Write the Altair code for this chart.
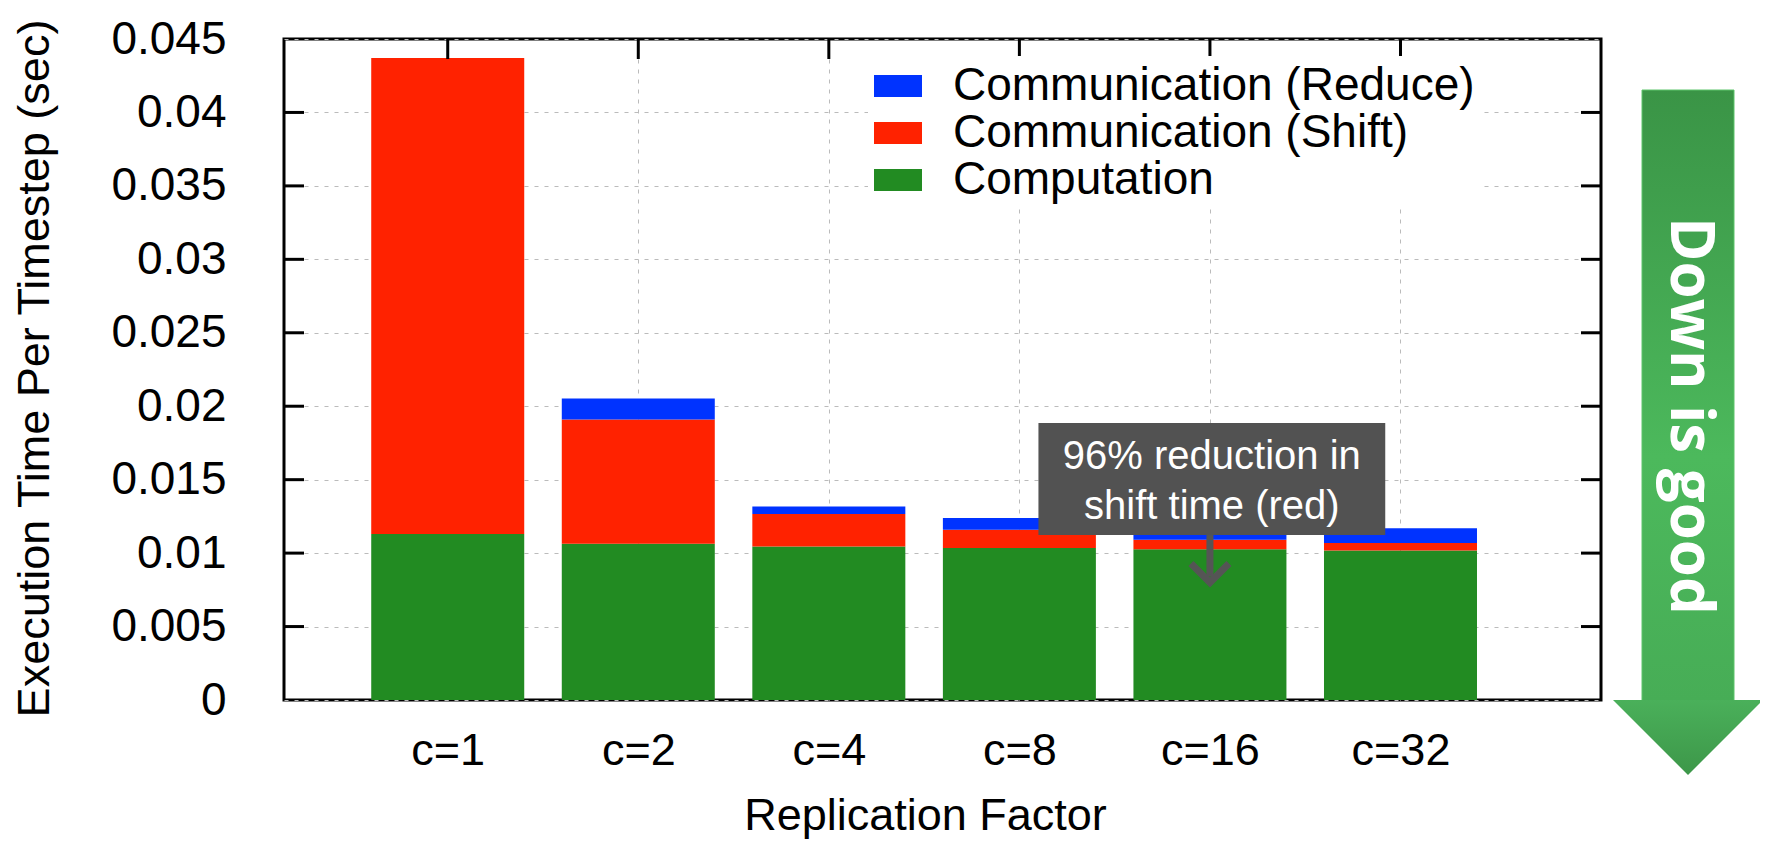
import altair as alt
import pandas as pd

# ---- data ----
categories = ["c=1", "c=2", "c=4", "c=8", "c=16", "c=32"]
computation = [0.0113, 0.01064, 0.01045, 0.01034, 0.01027, 0.01018]
comm_shift = [0.0324, 0.00845, 0.00221, 0.00125, 0.00064, 0.0005]
comm_reduce = [0.0, 0.00143, 0.00052, 0.0008, 0.0008, 0.00102]
series_names = ["Communication (Reduce)", "Communication (Shift)", "Computation"]
series_colors = ["#0033ff", "#ff2200", "#228b22"]
y_ticks = [0, 0.005, 0.01, 0.015, 0.02, 0.025, 0.03, 0.035, 0.04, 0.045]
y_tick_labels = ["0", "0.005", "0.01", "0.015", "0.02", "0.025", "0.03", "0.035", "0.04", "0.045"]
x_title = "Replication Factor"
y_title = "Execution Time Per Timestep (sec)"
note_lines = ["96% reduction in", "shift time (red)"]
note_box_x = [3.1, 4.92]
note_box_y = [0.01123, 0.01885]
note_text_y = [0.01654, 0.01313]
note_arrow_x = 4.0
note_arrow_y = [0.01123, 0.0080]
side_note = "Down is good"

FONT = "Liberation Sans"
W, H = 1317, 661

rows = []
for i, c in enumerate(categories):
    for name, vals, order in [("Computation", computation, 0),
                              ("Communication (Shift)", comm_shift, 1),
                              ("Communication (Reduce)", comm_reduce, 2)]:
        rows.append({"idx": i, "cat": c, "series": name, "value": vals[i], "order": order})
df = pd.DataFrame(rows)

xscale = alt.Scale(domain=[-0.833, 6.026], nice=False, zero=False)
yscale = alt.Scale(domain=[0, 0.045], nice=False)

x_label_expr = "[" + ",".join(f"'{c}'" for c in categories) + "][round(datum.value)]"
y_label_expr = "[" + ",".join(f"'{s}'" for s in y_tick_labels) + "][round(datum.value/0.005)]"

bars = alt.Chart(df).mark_bar(size=153).encode(
    x=alt.X("idx:Q", scale=xscale,
            axis=alt.Axis(values=list(range(len(categories))), labelExpr=x_label_expr,
                          title=x_title, grid=True, gridDash=[4, 6], gridColor="#bbbbbb",
                          gridWidth=1, ticks=False, tickSize=0, domain=False,
                          labelFontSize=45, labelFont=FONT, labelColor="black",
                          labelPadding=28, titleFontSize=45, titleFont=FONT,
                          titleFontWeight="normal", titleColor="black",
                          titleX=641, titleY=129, titleBaseline="alphabetic",
                          titleAnchor="middle")),
    y=alt.Y("value:Q", stack="zero", scale=yscale,
            axis=alt.Axis(values=y_ticks, labelExpr=y_label_expr, title=y_title,
                          grid=True, gridDash=[4, 6], gridColor="#bbbbbb", gridWidth=1,
                          ticks=False, tickSize=0, domain=False,
                          labelFontSize=46, labelFont=FONT, labelColor="black",
                          labelPadding=58, titleFontSize=45, titleFont=FONT,
                          titleFontWeight="normal", titleColor="black",
                          titleX=-250, titleY=329, titleBaseline="middle",
                          titleAngle=-90)),
    color=alt.Color("series:N",
                    scale=alt.Scale(domain=series_names, range=series_colors),
                    legend=alt.Legend(orient="none", legendX=584, legendY=17, title=None,
                                      labelFontSize=46, labelFont=FONT, labelColor="black",
                                      symbolType="M-1,-0.46L1,-0.46L1,0.46L-1,0.46Z",
                                      symbolSize=2304, symbolStrokeWidth=0,
                                      symbolOpacity=1, labelOffset=31, rowPadding=0,
                                      fillColor="white", padding=6, labelLimit=800)),
    order=alt.Order("order:Q"),
)

ytick_df = pd.DataFrame({"v": y_ticks[1:-1]})
xtick_df = pd.DataFrame({"i": list(range(len(categories)))})

left_ticks = alt.Chart(ytick_df).mark_rule(color="black", strokeWidth=3).encode(
    y=alt.Y("v:Q", scale=yscale, axis=None), x=alt.value(0), x2=alt.value(20))
right_ticks = alt.Chart(ytick_df).mark_rule(color="black", strokeWidth=3).encode(
    y=alt.Y("v:Q", scale=yscale, axis=None), x=alt.value(W - 20), x2=alt.value(W))
top_ticks = alt.Chart(xtick_df).mark_rule(color="black", strokeWidth=3).encode(
    x=alt.X("i:Q", scale=xscale, axis=None), y=alt.value(0), y2=alt.value(20))

box_df = pd.DataFrame({"x1": [note_box_x[0]], "x2": [note_box_x[1]],
                       "y1": [note_box_y[0]], "y2": [note_box_y[1]]})
note_box = alt.Chart(box_df).mark_rect(color="#525252").encode(
    x=alt.X("x1:Q", scale=xscale, axis=None), x2="x2:Q",
    y=alt.Y("y1:Q", scale=yscale, axis=None), y2="y2:Q")

txt_df = pd.DataFrame({"t": note_lines, "x": [sum(note_box_x) / 2] * 2, "y": note_text_y})
note_text = alt.Chart(txt_df).mark_text(color="white", fontSize=40, font=FONT,
                                        align="center", baseline="middle").encode(
    x=alt.X("x:Q", scale=xscale, axis=None), y=alt.Y("y:Q", scale=yscale, axis=None), text="t:N")

arr_df = pd.DataFrame({"x": [note_arrow_x], "y1": [note_arrow_y[0]], "y2": [note_arrow_y[1] + 0.0004]})
arrow_shaft = alt.Chart(arr_df).mark_rule(color="#555555", strokeWidth=7).encode(
    x=alt.X("x:Q", scale=xscale, axis=None), y=alt.Y("y1:Q", scale=yscale, axis=None), y2="y2:Q")
head_df = pd.DataFrame({"x": [note_arrow_x], "y": [note_arrow_y[1]]})
arrow_head = alt.Chart(head_df).mark_point(shape="M-1,-1L0,0L1,-1", size=1444, filled=False,
                                           color="#555555", strokeWidth=7, opacity=1,
                                           strokeJoin="miter").encode(
    x=alt.X("x:Q", scale=xscale, axis=None), y=alt.Y("y:Q", scale=yscale, axis=None))

one = pd.DataFrame({"t": [side_note]})
shaft_grad = alt.Gradient(gradient="linear",
                          stops=[alt.GradientStop(color="#3a9446", offset=0),
                                 alt.GradientStop(color="#4cb95c", offset=0.6),
                                 alt.GradientStop(color="#47ad56", offset=1)],
                          x1=0, x2=0, y1=0, y2=1)
head_grad = alt.Gradient(gradient="linear",
                         stops=[alt.GradientStop(color="#4ab05a", offset=0),
                                alt.GradientStop(color="#3d9749", offset=1)],
                         x1=0, x2=0, y1=0, y2=1)
big_shaft = alt.Chart(one).mark_rect(fill=shaft_grad, stroke="#5cc46a", strokeWidth=1).encode(
    x=alt.value(1358), x2=alt.value(1450), y=alt.value(51), y2=alt.value(662))
big_head = alt.Chart(one).mark_point(shape="M-1,0L1,0L0,1Z", size=22500, filled=True,
                                     fill=head_grad, opacity=1, strokeWidth=0).encode(
    x=alt.value(1404), y=alt.value(661))
big_text = alt.Chart(one).mark_text(angle=90, fontSize=60, font="Open Sans", fontWeight="bold",
                                    color="white", align="center", baseline="middle").encode(
    x=alt.value(1405), y=alt.value(377), text="t:N")

chart = alt.layer(
    bars, left_ticks, right_ticks, top_ticks, note_box, note_text, arrow_shaft, arrow_head,
    big_shaft, big_head, big_text,
).resolve_axis(
    x="independent", y="independent"
).properties(
    width=W, height=H,
    background="white",
    autosize=alt.AutoSizeParams(type="none"),
    padding={"left": 276, "top": 31, "right": 159, "bottom": 141},
).configure_view(stroke="black", strokeWidth=3)

chart.save("out.html", embed_options={"renderer": "svg", "actions": False})
